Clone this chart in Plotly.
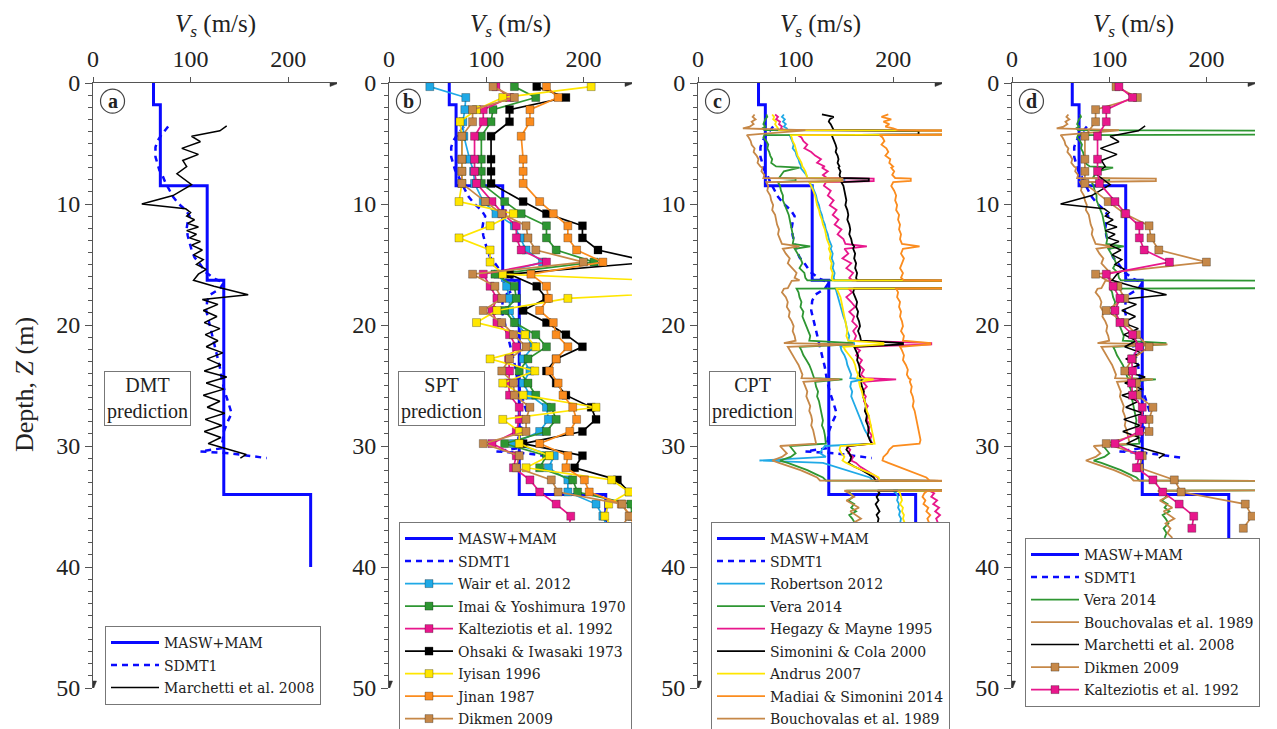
import plotly.graph_objects as go

# ---------------- data ----------------
masw_depth = [0, 1.8, 1.8, 8.5, 8.5, 16.3, 16.3, 34, 34, 40]
masw_vs = [62, 62, 69, 69, 117, 117, 134, 134, 223, 223]

sdmt_depth = [3.6, 4.3, 4.8, 5.3, 6.1, 6.6, 7.2, 7.6, 8.2, 8.8,
              9.4, 10.0, 10.5, 11.0, 11.5, 12.0, 12.6, 13.2, 13.8, 14.4,
              15.0, 15.6, 16.2, 16.5, 17.0, 17.5, 18.0, 18.8, 19.5, 20.5,
              21.5, 22.5, 23.5, 24.5, 25.5, 26.5, 27.3, 28.0, 28.8, 29.5,
              30.2, 30.45, 30.6, 31.0]
sdmt_vs = [77, 70, 66, 64, 64, 66, 68, 71, 74, 78,
           82, 88, 95, 99, 97, 96, 97, 99, 101, 104,
           110, 115, 125, 134, 130, 120, 117, 116, 118, 121,
           124, 127, 130, 132, 135, 139, 142, 138, 134, 133,
           131, 110, 140, 178]

march_depth = [3.55, 3.95, 4.4, 4.85, 5.4, 5.9, 6.4, 6.9, 7.5, 8.4,
               9.3, 10.0, 10.4, 10.7, 11.0, 11.3, 11.6, 11.9, 12.2, 12.5,
               12.8, 13.1, 13.4, 13.8, 14.2, 14.6, 15.0, 15.4, 15.8, 16.3,
               16.8, 17.5, 17.9, 18.3, 18.8, 19.3, 19.8, 20.3, 20.8, 21.3,
               21.8, 22.3, 22.8, 23.3, 23.8, 24.3, 24.8, 25.3, 25.8, 26.3,
               26.8, 27.3, 27.8, 28.3, 28.8, 29.3, 29.8, 30.3, 30.7, 31.0]
march_vs = [137, 130, 101, 110, 91, 108, 92, 96, 86, 101,
            82, 50, 95, 100, 96, 104, 97, 108, 96, 106,
            99, 110, 101, 112, 103, 113, 106, 116, 108, 103,
            124, 159, 112, 128, 113, 127, 114, 130, 115, 128,
            116, 133, 117, 131, 114, 137, 116, 134, 113, 130,
            117, 135, 115, 132, 114, 131, 118, 140, 157, 151]

# SPT-based predictions (shared SPT depths)
spt_depth = [0.3, 1.2, 2.2, 3.2, 4.4, 6.3, 7.3, 8.3, 9.8, 10.8,
             11.8, 12.8, 13.8, 14.8, 15.8, 16.8, 17.8, 18.8, 19.8, 20.8,
             21.8, 22.8, 23.8, 24.8, 25.8, 26.8, 27.8, 28.8, 29.8, 30.8,
             31.8, 32.8, 33.8, 34.8, 35.8, 36.8]
wair_vs = [42, 79, 78, 76, 77, 83, 87, 88, 97, 110,
           129, 135, 141, 158, 112, 121, 124, 124, 131, 141,
           148, 138, 145, 138, 145, 162, 164, 155, 128, 170,
           164, 184, 184, 213, 220, 225]
imai_vs = [129, 151, 107, 105, 95, 95, 95, 95, 119, 136,
           162, 162, 172, 211, 109, 129, 131, 119, 129, 151,
           162, 143, 134, 143, 151, 167, 172, 162, 119, 162,
           155, 189, 194, 249, 250, 255]
kalt_vs = [110, 124, 97, 97, 88, 88, 88, 90, 106, 117,
           131, 131, 136, 162, 97, 104, 111, 106, 111, 124,
           131, 123, 124, 123, 124, 134, 134, 131, 106, 131,
           128, 145, 155, 172, 187, 185]
ohsaki_vs = [152, 182, 124, 124, 105, 105, 105, 105, 138, 162,
             199, 199, 215, 270, 124, 152, 162, 138, 162, 182,
             199, 172, 162, 172, 182, 208, 213, 199, 138, 199,
             191, 235, 247, 262, 268, 270]
iyisan_vs = [208, 117, 90, 73, 75, 75, 75, 75, 72, 128,
             104, 72, 104, 104, 117, 420, 184, 111, 90, 140,
             151, 104, 150, 117, 138, 213, 117, 134, 134, 165,
             141, 229, 247, 226, 222, 230]
jinan_vs = [162, 174, 145, 145, 136, 138, 138, 138, 155, 169,
            184, 184, 193, 220, 146, 162, 164, 155, 169, 172,
            184, 172, 165, 174, 179, 189, 193, 186, 155, 184,
            182, 201, 206, 239, 249, 252]
dikmen_vs = [107, 129, 86, 86, 75, 75, 75, 75, 99, 116,
             141, 143, 151, 200, 86, 109, 116, 97, 116, 128,
             141, 124, 116, 128, 129, 145, 141, 141, 97, 134,
             131, 167, 174, 240, 247, 238]

# CPT-based predictions (shared CPT depths)
cpt_depth = [2.6, 2.8, 3.0, 3.2, 3.4, 3.6, 3.75, 3.9, 3.95, 4.25,
             4.3, 4.5, 4.8, 5.1, 5.4, 5.7, 6.0, 6.3, 6.6, 6.9,
             7.0, 7.3, 7.6, 7.85, 7.9, 8.1, 8.2, 8.5, 8.9, 9.3,
             9.7, 10.1, 10.5, 10.9, 11.3, 11.7, 12.1, 12.5, 12.9, 13.3,
             13.5, 13.7, 14.1, 14.5, 14.9, 15.3, 15.7, 16.1, 16.3, 16.35,
             16.95, 17.0, 17.3, 17.7, 18.1, 18.5, 18.9, 19.3, 19.7, 20.1,
             20.5, 20.9, 21.3, 21.5, 21.6, 21.8, 22.1, 22.5, 22.9, 23.3,
             23.7, 24.1, 24.4, 24.5, 24.7, 25.1, 25.5, 25.9, 26.3, 26.7,
             27.1, 27.5, 27.9, 28.3, 28.7, 29.1, 29.5, 29.8, 30.0, 30.3,
             30.6, 30.9, 31.2, 31.4, 31.7, 32.0, 32.3, 32.6, 32.85, 32.9,
             33.65, 33.7, 33.9, 34.2, 34.5, 34.8, 35.1, 35.4, 35.7, 36.0,
             36.4, 36.8, 37.2, 37.6]
robertson_vs = [88, 86, 89, 87, 90, 88, 91, 92, 300, 300,
                94, 95, 96, 98, 97, 100, 101, 103, 104, 106,
                105, 108, 111, 112, 150, 150, 114, 117, 119, 121,
                122, 124, 125, 127, 128, 130, 131, 133, 134, 136,
                137, 136, 138, 137, 139, 138, 140, 139, 140, 300,
                300, 141, 142, 144, 145, 146, 148, 149, 151, 152,
                153, 155, 154, 160, 160, 146, 147, 150, 152, 153,
                155, 157, 156, 170, 157, 156, 158, 157, 159, 161,
                163, 165, 167, 169, 171, 174, 177, 178, 130, 127,
                125, 131, 63, 128, 140, 152, 165, 176, 179, 300,
                300, 200, 203, 205, 204, 206, 205, 207, 206, 208,
                207, 209, 208, 210]
vera_vs = [70, 71, 69, 68, 67, 69, 66, 68, 300, 300,
           68, 67, 70, 72, 71, 73, 74, 76, 75, 80,
           104, 88, 85, 83, 100, 100, 82, 84, 85, 87,
           87, 89, 91, 93, 94, 95, 96, 97, 98, 97,
           115, 99, 102, 105, 107, 104, 109, 110, 112, 300,
           300, 101, 103, 104, 106, 105, 108, 107, 109, 111,
           113, 115, 114, 158, 158, 104, 106, 108, 111, 114,
           116, 118, 119, 148, 120, 121, 123, 122, 124, 125,
           126, 127, 128, 127, 129, 130, 131, 131, 94, 97,
           100, 95, 84, 92, 103, 112, 120, 128, 131, 300,
           300, 152, 156, 159, 154, 160, 157, 162, 155, 158,
           161, 156, 159, 157]
hegazy_vs = [79, 82, 80, 84, 83, 86, 85, 88, 300, 300,
             102, 106, 108, 112, 109, 116, 120, 126, 122, 130,
             127, 133, 128, 132, 180, 180, 131, 129, 136, 133,
             139, 135, 142, 138, 144, 140, 147, 143, 149, 151,
             173, 150, 154, 148, 157, 152, 159, 155, 158, 300,
             300, 154, 158, 152, 157, 161, 155, 160, 158, 163,
             159, 162, 160, 239, 239, 160, 166, 162, 168, 165,
             170, 167, 171, 203, 169, 173, 168, 172, 170, 174,
             171, 175, 173, 177, 174, 178, 176, 179, 152, 156,
             154, 159, 157, 162, 166, 172, 178, 184, 186, 300,
             300, 237, 242, 239, 245, 241, 247, 243, 248, 244,
             246, 242, 247, 244]
simonini_vs = [127, 139, 135, 134, 136, 137, 138, 139, 226, 226,
               137, 138, 140, 141, 142, 141, 143, 144, 143, 145,
               144, 146, 145, 146, 175, 175, 147, 149, 150, 151,
               152, 151, 153, 154, 153, 155, 156, 155, 157, 158,
               160, 159, 161, 160, 162, 161, 163, 162, 163, 300,
               300, 160, 159, 161, 163, 162, 164, 163, 165, 166,
               164, 166, 167, 210, 210, 160, 162, 164, 163, 165,
               166, 165, 167, 168, 167, 168, 170, 169, 171, 172,
               171, 173, 172, 174, 175, 174, 176, 178, 154, 152,
               155, 157, 156, 154, 160, 168, 174, 180, 182, 300,
               300, 184, 186, 183, 185, 182, 184, 186, 183, 185,
               184, 186, 183, 185]
andrus_vs = [76, 78, 77, 80, 79, 81, 82, 83, 300, 300,
             95, 96, 97, 99, 100, 101, 102, 104, 106, 107,
             108, 110, 111, 112, 146, 146, 114, 116, 118, 120,
             121, 122, 124, 125, 127, 128, 130, 131, 132, 134,
             135, 134, 136, 135, 137, 136, 138, 137, 138, 300,
             300, 142, 144, 146, 147, 148, 149, 150, 151, 152,
             153, 152, 154, 190, 190, 149, 151, 155, 159, 161,
             162, 164, 163, 180, 165, 166, 168, 169, 171, 172,
             173, 175, 176, 177, 178, 179, 180, 181, 146, 145,
             147, 150, 148, 152, 160, 170, 178, 185, 186, 300,
             300, 205, 207, 208, 209, 207, 210, 209, 211, 210,
             212, 211, 213, 212]
madiai_vs = [195, 188, 198, 190, 196, 192, 200, 205, 300, 300,
             186, 189, 191, 188, 193, 195, 192, 197, 196, 200,
             198, 201, 199, 202, 218, 218, 200, 198, 201, 203,
             202, 204, 203, 206, 205, 207, 206, 208, 207, 209,
             227, 210, 208, 211, 209, 207, 210, 208, 211, 300,
             300, 203, 205, 204, 207, 206, 208, 207, 209, 210,
             208, 211, 210, 238, 238, 207, 209, 211, 210, 213,
             215, 214, 216, 218, 217, 219, 218, 220, 221, 220,
             222, 223, 224, 225, 226, 227, 228, 227, 200, 196,
             194, 190, 189, 195, 205, 215, 226, 234, 237, 300,
             300, 235, 232, 230, 233, 231, 236, 234, 238, 235,
             237, 233, 236, 234]
bouch_vs = [58, 56, 59, 55, 57, 53, 46, 110, 104, 52,
            50, 52, 54, 55, 58, 57, 60, 62, 61, 64,
            66, 65, 68, 67, 148, 148, 70, 72, 71, 74,
            75, 77, 76, 79, 80, 81, 83, 82, 84, 86,
            104, 87, 90, 94, 92, 97, 101, 99, 104, 96,
            92, 88, 86, 90, 92, 91, 94, 93, 96, 98,
            97, 99, 100, 88, 160, 92, 94, 97, 100, 103,
            105, 107, 106, 145, 108, 110, 112, 111, 113, 115,
            114, 116, 117, 116, 118, 119, 120, 121, 84, 88,
            91, 86, 76, 83, 95, 105, 114, 122, 125, 300,
            300, 150, 155, 160, 152, 158, 165, 156, 162, 167,
            158, 163, 160, 165]

# ---------------- styling ----------------
BLUE = "#0a0aff"
CYAN = "#1fa9e6"
GREEN = "#2e9632"
MAGENTA = "#e8178c"
BLACK = "#000000"
YELLOW = "#ffe600"
ORANGE = "#fb8c1e"
BROWN = "#c68848"

# page body has an 8px margin: figure is sized so it fits the window exactly
OFF = 8
W, H = 1277 - OFF, 729 - OFF


def fx(px):
    return (px - OFF) / W


def fy(py):
    return 1 - (py - OFF) / H


x_dom = [(93, 337), (389, 632), (698, 942), (1012, 1255)]
y_dom = (fy(688), fy(83))
legend_pos = [(105, 626), (399, 522), (711, 522), (1025, 538)]

SERIF = "Liberation Serif"
LEGFONT = "DejaVu Serif"

fig = go.Figure()


def sfx(i):
    return "" if i == 0 else str(i + 1)


def add(i, name, vs, depth, color, width=1.8, dash="solid", marker=False):
    s = sfx(i)
    kw = dict(
        x=vs, y=depth, name=name,
        mode="lines+markers" if marker else "lines",
        line=dict(color=color, width=width, dash=dash),
        xaxis="x" + s, yaxis="y" + s, legend="legend" + s,
        legendgroup=f"p{i}_{name}", showlegend=True, hoverinfo="skip",
    )
    if marker:
        kw["marker"] = dict(symbol="square", size=8, color=color,
                            line=dict(color="rgba(0,0,0,0.35)", width=0.8))
    fig.add_trace(go.Scatter(**kw))


def base(i):
    add(i, "MASW+MAM", masw_vs, masw_depth, BLUE, width=3)
    add(i, "SDMT1", sdmt_vs, sdmt_depth, BLUE, width=2.5, dash="6px,5px")


# panel a
base(0)
add(0, "Marchetti et al. 2008", march_vs, march_depth, BLACK, width=1.5)

# panel b
base(1)
add(1, "Wair et al. 2012", wair_vs, spt_depth, CYAN, 1.7, marker=True)
add(1, "Imai & Yoshimura 1970", imai_vs, spt_depth, GREEN, 1.7, marker=True)
add(1, "Kalteziotis et al. 1992", kalt_vs, spt_depth, MAGENTA, 1.7, marker=True)
add(1, "Ohsaki & Iwasaki 1973", ohsaki_vs, spt_depth, BLACK, 1.7, marker=True)
add(1, "Iyisan 1996", iyisan_vs, spt_depth, YELLOW, 1.7, marker=True)
add(1, "Jinan 1987", jinan_vs, spt_depth, ORANGE, 1.7, marker=True)
add(1, "Dikmen 2009", dikmen_vs, spt_depth, BROWN, 1.7, marker=True)

# panel c
base(2)
add(2, "Robertson 2012", robertson_vs, cpt_depth, CYAN)
add(2, "Vera 2014", vera_vs, cpt_depth, GREEN)
add(2, "Hegazy & Mayne 1995", hegazy_vs, cpt_depth, MAGENTA)
add(2, "Simonini & Cola 2000", simonini_vs, cpt_depth, BLACK)
add(2, "Andrus 2007", andrus_vs, cpt_depth, YELLOW)
add(2, "Madiai & Simonini 2014", madiai_vs, cpt_depth, ORANGE)
add(2, "Bouchovalas et al. 1989", bouch_vs, cpt_depth, BROWN)

# panel d
base(3)
add(3, "Vera 2014", vera_vs, cpt_depth, GREEN)
add(3, "Bouchovalas et al. 1989", bouch_vs, cpt_depth, BROWN)
add(3, "Marchetti et al. 2008", march_vs, march_depth, BLACK, width=1.5)
add(3, "Dikmen 2009", dikmen_vs, spt_depth, BROWN, 1.7, marker=True)
add(3, "Kalteziotis et al. 1992", kalt_vs, spt_depth, MAGENTA, 1.7, marker=True)

TICKFONT = dict(family=SERIF, size=24, color="#222")
AXC = "#555"
layout = {}
annotations = []
shapes = []
for i in range(4):
    s = sfx(i)
    layout["xaxis" + s] = dict(
        domain=[fx(x_dom[i][0]), fx(x_dom[i][1])], range=[0, 250], side="top",
        anchor="y" + s, tick0=0, dtick=100, ticks="outside", ticklen=5,
        tickcolor=AXC, showline=True, linecolor=AXC, linewidth=1,
        showgrid=False, zeroline=False, tickfont=TICKFONT, fixedrange=True)
    layout["yaxis" + s] = dict(
        domain=list(y_dom), range=[50, 0], anchor="x" + s, tick0=0, dtick=10,
        ticks="outside", ticklen=7, tickcolor=AXC,
        minor=dict(tick0=0, dtick=1, ticks="outside", ticklen=4, tickcolor=AXC),
        showline=True, linecolor=AXC, linewidth=1, showgrid=False,
        zeroline=False, tickfont=TICKFONT, fixedrange=True)
    lx, ly = legend_pos[i]
    layout["legend" + s] = dict(
        x=fx(lx), y=fy(ly), xanchor="left", yanchor="top",
        bordercolor="#777", borderwidth=1, bgcolor="white",
        font=dict(family=LEGFONT, size=14, color="#222"),
        tracegroupgap=1.3, itemwidth=48)
    # axis arrowheads
    shapes.append(dict(type="path", xref="x" + s, yref="y" + s,
                       xsizemode="pixel", ysizemode="pixel", xanchor=250, yanchor=0,
                       path="M2,0 L-7,3.5 L-7,-3.5 Z", fillcolor="#333",
                       line=dict(color="#333", width=0.5)))
    shapes.append(dict(type="path", xref="x" + s, yref="y" + s,
                       xsizemode="pixel", ysizemode="pixel", xanchor=0, yanchor=50,
                       path="M0,-2 L-3.5,7 L3.5,7 Z", fillcolor="#333",
                       line=dict(color="#333", width=0.5)))
    # axis title
    cx = fx((x_dom[i][0] + x_dom[i][1]) / 2)
    annotations.append(dict(x=cx, y=fy(26), xref="paper", yref="paper",
                            xanchor="center", yanchor="middle",
                            text="<i>V<sub>s</sub></i> (m/s)", showarrow=False,
                            font=dict(family=SERIF, size=25, color="#222")))
    # circled panel letter
    shapes.append(dict(type="circle", xref="x" + s, yref="y" + s,
                       xsizemode="pixel", ysizemode="pixel", xanchor=20, yanchor=1.5,
                       x0=-12, x1=12, y0=-12, y1=12, line=dict(color="#444", width=1.2)))
    annotations.append(dict(x=20, y=1.5, xref="x" + s, yref="y" + s,
                            xanchor="center", yanchor="middle",
                            text="<b>%s</b>" % "abcd"[i], showarrow=False,
                            font=dict(family=SERIF, size=20, color="#222")))

# prediction boxes
for txt, cx in [("DMT", 147.5), ("SPT", 441), ("CPT", 752)]:
    annotations.append(dict(x=fx(cx), y=fy(398), xref="paper", yref="paper",
                            xanchor="center", yanchor="middle",
                            text=txt + "<br>prediction", showarrow=False,
                            bordercolor="#777", borderwidth=1, borderpad=2,
                            bgcolor="white",
                            font=dict(family=SERIF, size=20, color="#222")))

annotations.append(dict(x=fx(24), y=fy(385), xref="paper", yref="paper",
                        xanchor="center", yanchor="middle",
                        text="Depth, <i>Z</i> (m)", textangle=-90, showarrow=False,
                        font=dict(family=SERIF, size=26, color="#222")))

fig.update_layout(
    width=W, height=H, autosize=False,
    margin=dict(l=0, r=0, t=0, b=0, autoexpand=False),
    paper_bgcolor="white", plot_bgcolor="white",
    annotations=annotations, shapes=shapes, **layout)

fig.write_html("out.html")
